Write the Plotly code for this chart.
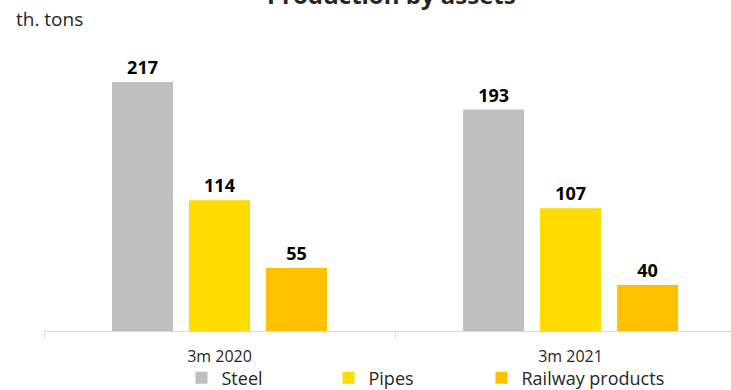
import plotly.graph_objects as go

categories = ["3m 2020", "3m 2021"]
series_names = ["Steel", "Pipes", "Railway products"]
steel = [217, 193]
pipes = [114, 107]
railway = [55, 40]
colors = ["#bfbfbf", "#ffdb00", "#ffc000"]
unit_label = "th. tons"
title_text = "Production by assets"

FONT = "Open Sans"
PLOT_L, PLOT_W, PLOT_B, PLOT_H = 44, 687, 331, 291
legend_left_px = [181.5, 328.5, 481.5]
legend_names = ["legend", "legend2", "legend3"]

fig = go.Figure()
for name, vals, col, lg in zip(series_names, [steel, pipes, railway], colors, legend_names):
    fig.add_trace(go.Bar(
        x=categories, y=vals, name=name, marker=dict(color=col, line=dict(width=0)),
        text=[str(v) for v in vals], textposition="outside",
        textfont=dict(family=FONT, size=18, color="#000000", weight="bold"),
        cliponaxis=False, legend=lg,
    ))

legend_common = dict(orientation="h", xanchor="left", y=(PLOT_B - 378) / PLOT_H, yanchor="middle",
                     font=dict(family=FONT, size=18, color="#262626"), bgcolor="rgba(0,0,0,0)")
layout_legends = {}
for lg, px in zip(legend_names, legend_left_px):
    layout_legends[lg] = dict(x=(px - PLOT_L) / PLOT_W, **legend_common)

fig.update_layout(
    width=731, height=390,
    margin=dict(l=44, r=0, t=40, b=59, autoexpand=False),
    paper_bgcolor="white", plot_bgcolor="white",
    barmode="group", bargap=0.342, bargroupgap=0.208,
    font=dict(family=FONT, color="#262626"),
    showlegend=True,
    xaxis=dict(type="category", range=[-0.5, 1.457], showline=True, linecolor="#d9d9d9",
               linewidth=1, ticks="outside", tickson="boundaries", ticklen=6,
               tickcolor="#d9d9d9", showgrid=False, zeroline=False,
               tickfont=dict(family=FONT, size=16, color="#262626"), ticklabelstandoff=11),
    yaxis=dict(range=[0, 253.7], visible=False, showgrid=False),
    annotations=[
        dict(text=unit_label, xref="paper", yref="paper", x=(14 - PLOT_L) / PLOT_W, y=1 + (40 - 19) / PLOT_H,
             xanchor="left", yanchor="middle", showarrow=False,
             font=dict(family=FONT, size=19, color="#262626")),
        dict(text=title_text, xref="paper", yref="paper", x=(391 - PLOT_L) / PLOT_W, y=1 + (40 - 13) / PLOT_H,
             xanchor="center", yanchor="bottom", showarrow=False,
             font=dict(family=FONT, size=24, color="#262626", weight="bold")),
    ],
    **layout_legends,
)
fig.write_html("out.html")
